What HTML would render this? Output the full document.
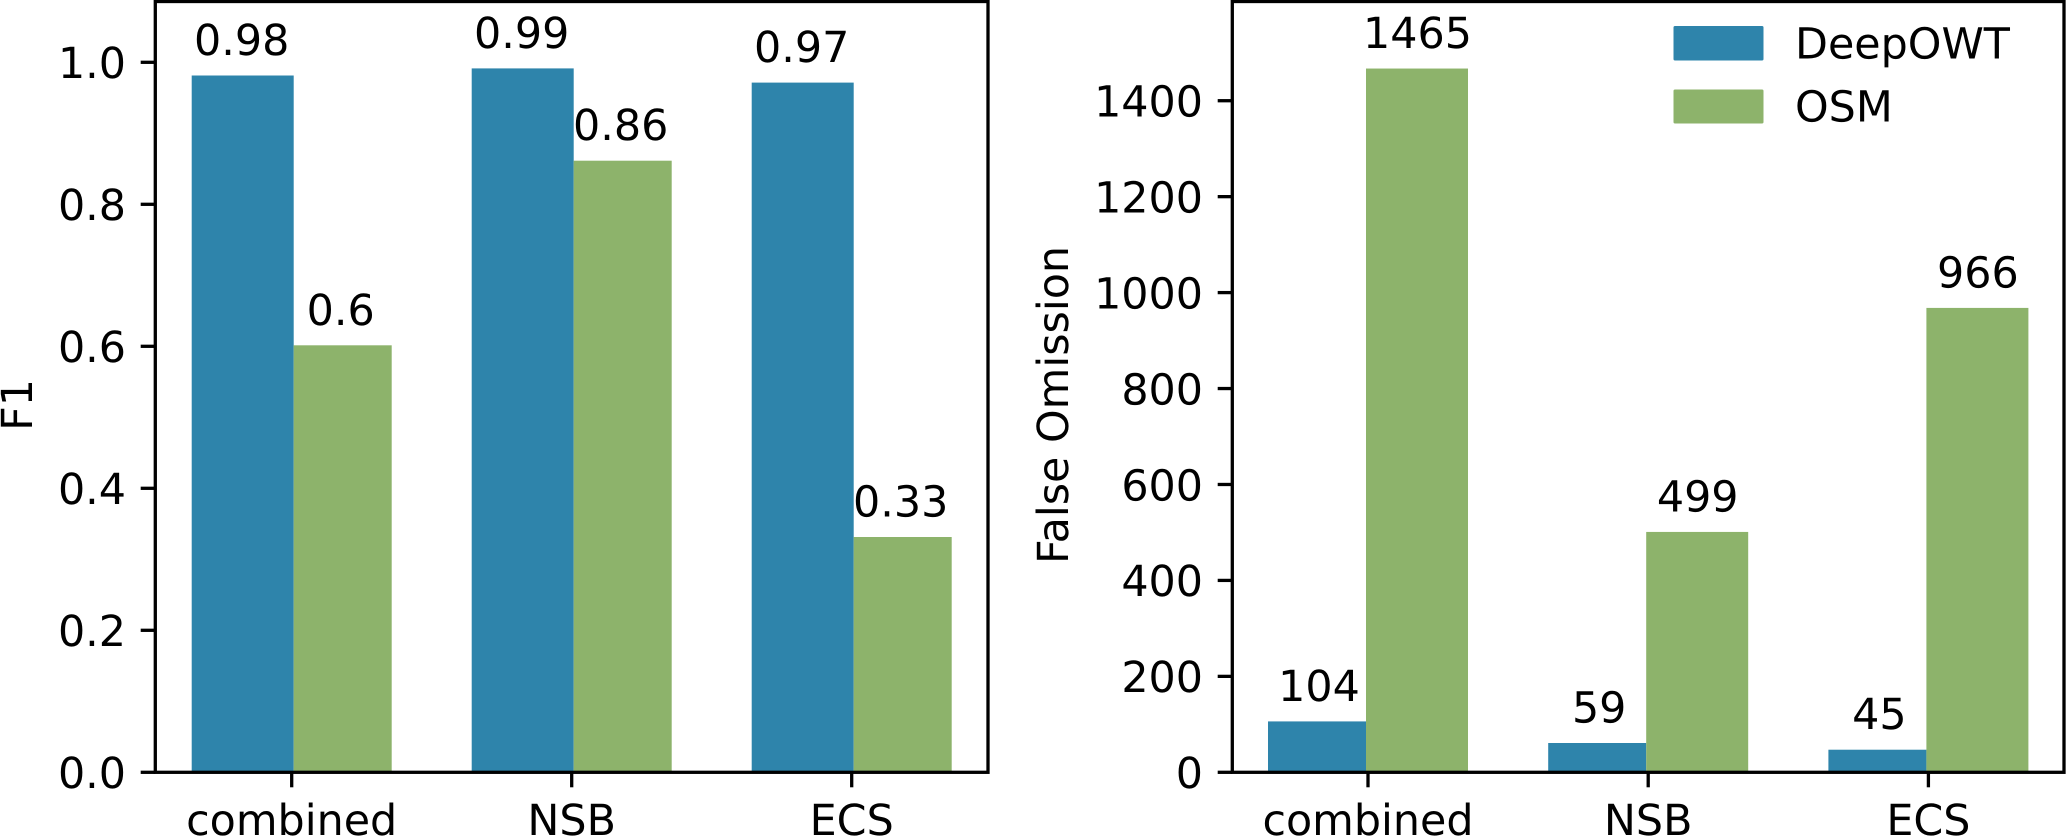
<!DOCTYPE html>
<html lang="en">
<head>
<meta charset="utf-8">
<title>DeepOWT vs OSM: F1 and False Omission</title>
<style>
  html, body { margin: 0; padding: 0; background: #fff; width: 2067px; height: 836px; overflow: hidden; }
  svg { display: block; }
  text { font-family: "DejaVu Sans", "Liberation Sans", sans-serif; font-size: 42.8px; fill: #000; text-rendering: geometricPrecision; }
</style>
</head>
<body>
<svg id="figure" xmlns="http://www.w3.org/2000/svg" width="2067" height="836" viewBox="0 0 2067 836">
  <rect x="0" y="0" width="2067" height="836" fill="#ffffff"/>
  <g id="f1-panel"></g>
  <g id="fo-panel"></g>
  <g id="legend">
    <g>
      <rect x="1673.5" y="26" width="90" height="34.5" rx="1.5" fill="#2e84ab"/>
      <text x="1795" y="58.5">DeepOWT</text>
    </g>
    <g>
      <rect x="1673.5" y="89.5" width="90" height="34" rx="1.5" fill="#8db36b"/>
      <text x="1795" y="121.5">OSM</text>
    </g>
  </g>
</svg>
<script>
const categories = ['combined', 'NSB', 'ECS'];
const f1DeepOWT = [0.98, 0.99, 0.97];
const f1OSM = [0.6, 0.86, 0.33];
const falseOmissionDeepOWT = [104, 59, 45];
const falseOmissionOSM = [1465, 499, 966];
const f1Ticks = [0, 0.2, 0.4, 0.6, 0.8, 1.0];
const f1TickLabels = ['0.0', '0.2', '0.4', '0.6', '0.8', '1.0'];
const falseOmissionTicks = [0, 200, 400, 600, 800, 1000, 1200, 1400];
const falseOmissionTickLabels = ['0', '200', '400', '600', '800', '1000', '1200', '1400'];

const NS = 'http://www.w3.org/2000/svg';
const BLUE = '#2e84ab';
const GREEN = '#8db36b';
const LW = 3.3;

function mk(parent, tag, attrs, content) {
  const el = document.createElementNS(NS, tag);
  for (const k in attrs) el.setAttribute(k, attrs[k]);
  if (content !== undefined) el.textContent = content;
  parent.appendChild(el);
  return el;
}

function drawPanel(cfg) {
  const g = document.getElementById(cfg.id);

  // bars
  cfg.blue.forEach(function (v, i) {
    const boundary = cfg.x(i) + cfg.seam;
    const top = cfg.y(v) - 1;
    const bar = mk(g, 'rect', { x: boundary - cfg.blueW, y: top, width: cfg.blueW, height: cfg.y(0) - top, fill: BLUE });
    
    
    const label = mk(g, 'text', { x: cfg.x(i) + cfg.blueLabelOffset, y: cfg.y(v) - 21.5, 'text-anchor': 'middle' }, String(v));
    
    
  });
  cfg.green.forEach(function (v, i) {
    const boundary = cfg.x(i) + cfg.seam;
    const top = cfg.y(v) - 1;
    const bar = mk(g, 'rect', { x: boundary, y: top, width: cfg.greenW, height: cfg.y(0) - top, fill: GREEN });
    
    
    const label = mk(g, 'text', { x: cfg.x(i) + cfg.greenLabelOffset, y: cfg.y(v) - 21.5, 'text-anchor': 'middle' }, String(v));
    
    
  });

  // y ticks
  cfg.ticks.forEach(function (t, i) {
    const tick = mk(g, 'line', { x1: cfg.left - 14.6, x2: cfg.left, y1: cfg.y(t), y2: cfg.y(t), stroke: '#000', 'stroke-width': LW });
    
    
    const label = mk(g, 'text', { x: cfg.left - 29.3, y: cfg.y(t) + 15.8, 'text-anchor': 'end' }, cfg.tickLabels[i]);
    
    
  });

  // x ticks
  categories.forEach(function (c, i) {
    const tick = mk(g, 'line', { x1: cfg.x(i), x2: cfg.x(i), y1: cfg.bottom, y2: cfg.bottom + 15, stroke: '#000', 'stroke-width': LW });
    
    
    const label = mk(g, 'text', { x: cfg.x(i), y: 835, 'text-anchor': 'middle' }, c);
    
    
  });

  // frame
  const frame = mk(g, 'rect', { x: cfg.left, y: cfg.top, width: cfg.right - cfg.left, height: cfg.bottom - cfg.top, fill: 'none', stroke: '#000', 'stroke-width': LW });
  
  

  // y axis title
  const title = mk(g, 'text', { x: 0, y: 0, 'text-anchor': 'middle', transform: 'translate(' + cfg.titleX + ',405) rotate(-90)' }, cfg.title);
  
  
}

drawPanel({
  id: 'f1-panel', left: 155.3, right: 988, top: 1.5, bottom: 772.3,
  x: function (i) { return 291.7 + 280 * i; },
  y: function (v) { return 772.3 - 710 * v; },
  seam: 2, blueW: 102, greenW: 98,
  blueLabelOffset: -50, greenLabelOffset: 49,
  blue: f1DeepOWT, green: f1OSM,
  ticks: f1Ticks, tickLabels: f1TickLabels,
  title: 'F1', titleX: 32
});

drawPanel({
  id: 'fo-panel', left: 1232.3, right: 2064, top: 1.5, bottom: 772.3,
  x: function (i) { return 1368 + 280.2 * i; },
  y: function (v) { return 772.3 - 0.4797 * v; },
  seam: -2, blueW: 98, greenW: 102,
  blueLabelOffset: -49, greenLabelOffset: 49.5,
  blue: falseOmissionDeepOWT, green: falseOmissionOSM,
  ticks: falseOmissionTicks, tickLabels: falseOmissionTickLabels,
  title: 'False Omission', titleX: 1068
});
</script>
</body>
</html>
